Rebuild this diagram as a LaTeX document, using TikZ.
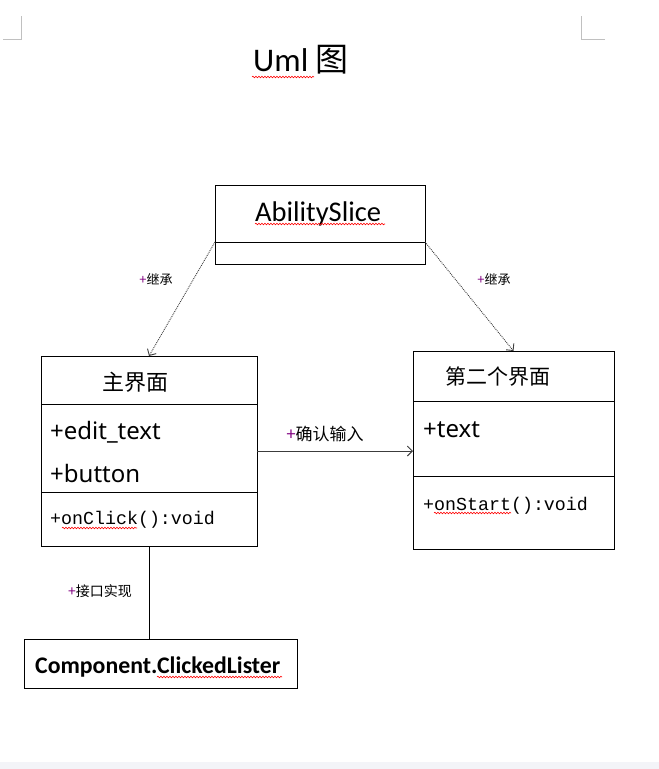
\documentclass[tikz,border=0pt]{standalone}
\usepackage{fontspec}
\setmainfont{Carlito}
\setmonofont{Liberation Mono}
\newfontfamily\cjk{Noto Sans CJK SC}
\newfontfamily\yahei{Noto Sans}
\usetikzlibrary{arrows.meta}
\usetikzlibrary{positioning,decorations.pathmorphing}
\definecolor{markgray}{RGB}{192,192,192}
\definecolor{plusmag}{RGB}{128,0,128}
\definecolor{linegray}{RGB}{60,60,60}
\definecolor{bandgray}{RGB}{243,244,248}

\begin{document}
\begin{tikzpicture}[x=1pt,y=-1pt]
		\tikzstyle{cls} = [rectangle, draw=black, line width=1pt, inner sep=0pt, outer sep=0pt]
		\tikzstyle{txt} = [inner sep=0pt, anchor=base west]
		\tikzstyle{lbl} = [inner sep=0pt, font=\cjk]
		\tikzstyle{dotarrow} = [densely dotted, line width=0.9pt, draw=linegray, -{Straight Barb[length=5pt,width=10pt]}]
		\tikzstyle{arrow} = [line width=0.9pt, draw=linegray, -{Straight Barb[length=5pt,width=10pt]}]
		\tikzstyle{spell} = [draw=red, line width=0.6pt, decorate, decoration={snake,segment length=3pt,amplitude=0.8pt}]
		\useasboundingbox (0,0) rectangle (659,769);
		% page corners and bottom edge
		\draw[markgray, line width=1pt] (21.5,16) -- (21.5,39) -- (3,39);
		\draw[markgray, line width=1pt] (581.5,16) -- (581.5,39) -- (605,39);
		\fill[bandgray] (0,762) rectangle (659,769);
		\node[txt] (title) at (253,71) {\fontsize{33}{33}\selectfont Uml {\cjk 图}};
		% classes
		\node (abil) [cls, minimum width=210pt, minimum height=57pt] at (320,213.5) {};
		\node (abilOps) [cls, minimum width=210pt, minimum height=22pt, below=0pt of abil] {};
		\node (main) [cls, minimum width=216pt, minimum height=48pt] at (149,380) {};
		\node (mainAttr) [cls, minimum width=216pt, minimum height=88pt, below=0pt of main] {};
		\node (mainOps) [cls, minimum width=216pt, minimum height=54pt, below=0pt of mainAttr] {};
		\node (second) [cls, minimum width=201pt, minimum height=50pt] at (513.5,376) {};
		\node (secondAttr) [cls, minimum width=201pt, minimum height=75pt, below=0pt of second] {};
		\node (secondOps) [cls, minimum width=201pt, minimum height=73pt, below=0pt of secondAttr] {};
		\node (listener) [cls, minimum width=273pt, minimum height=49pt] at (160.5,663.5) {};
		% texts
		\node[txt] (abilName) at (255,221) {\fontsize{28.5}{28.5}\selectfont AbilitySlice};
		\node[lbl] (mainName) at (135,382) {\fontsize{22}{22}\selectfont 主界面};
		\node[txt] (editText) at (50,439) {\yahei\fontsize{24}{24}\selectfont +edit\_text};
		\node[txt] (button) at (50,482) {\yahei\fontsize{24}{24}\selectfont +button};
		\node[txt] (onClick) at (50,524) {\ttfamily\fontsize{18.3}{18.3}\selectfont +onClick():void};
		\node[lbl] (secondName) at (498,377) {\fontsize{21}{21}\selectfont 第二个界面};
		\node[txt] (text) at (423,437) {\yahei\fontsize{24}{24}\selectfont +text};
		\node[txt] (onStart) at (423,510) {\ttfamily\fontsize{18.3}{18.3}\selectfont +onStart():void};
		\node[txt] (listenerName) at (35,673) {\fontsize{23.8}{23.8}\selectfont\bfseries Component.ClickedLister};
		% connectors
		\draw[dotarrow] (abilOps.north west) -- (main.north);
		\draw[dotarrow] (abilOps.north east) -- (second.north);
		\draw[arrow] ([yshift=-3pt]mainAttr.east) -- ([yshift=-3pt]mainAttr.east -| secondAttr.west);
		\draw[line width=1pt] (mainOps.south) -- (mainOps.south |- listener.north);
		\node[lbl] (inheritL) at (156,279) {\fontsize{13}{13}\selectfont{\color{plusmag}+}继承};
		\node[lbl] (inheritR) at (494,279) {\fontsize{13}{13}\selectfont{\color{plusmag}+}继承};
		\node[lbl] (confirm) at (325,434) {\fontsize{17}{17}\selectfont{\color{plusmag}+}确认输入};
		\node[lbl] (impl) at (100,591) {\fontsize{14}{14}\selectfont{\color{plusmag}+}接口实现};
		% spelling marks
		\draw[spell] (252,77) -- (314,77);
		\draw[spell] (255,224) -- (385,224);
		\draw[spell] (62,528) -- (137,528);
		\draw[spell] (434,513) -- (511,513);
		\draw[spell] (157,677) -- (282,677);
	\end{tikzpicture}
\end{document}
